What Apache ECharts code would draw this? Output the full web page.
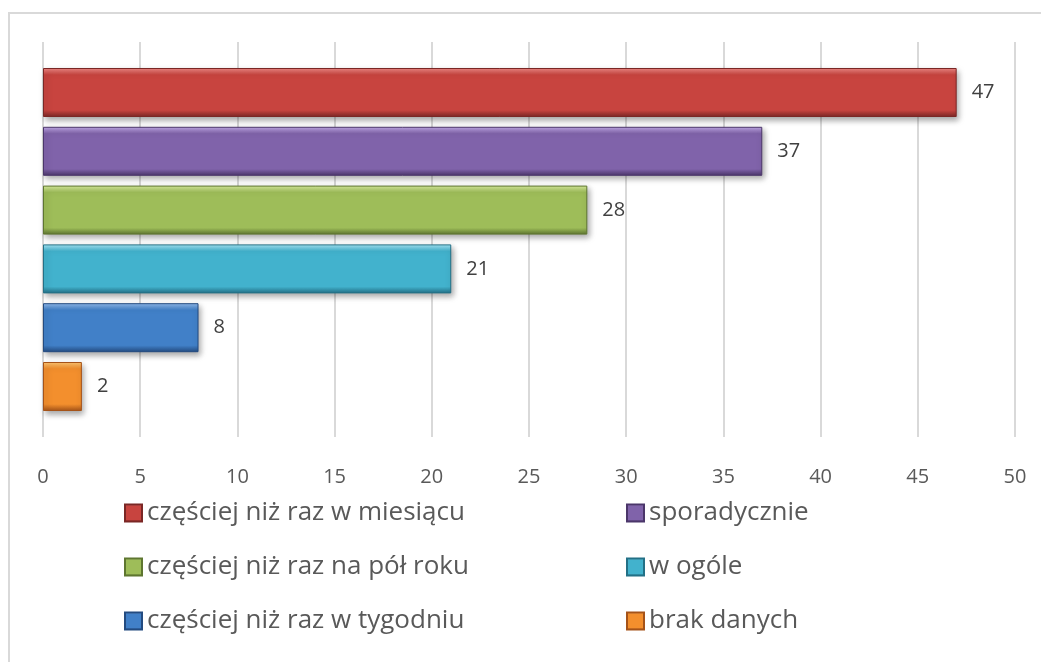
<!DOCTYPE html>
<html>
<head>
<meta charset="utf-8">
<script src="https://cdn.jsdelivr.net/npm/echarts@6/dist/echarts.min.js"></script>
<style>
  html, body { margin: 0; padding: 0; background: #fff; }
  #frame {
    position: absolute; left: 8px; top: 12px; width: 1100px; height: 700px;
    border-top: 2px solid #d9d9d9; border-left: 2px solid #d9d9d9;
  }
  #myChart { position: absolute; left: 0; top: 0; width: 1041px; height: 662px; }
</style>
</head>
<body>
<div id="frame"></div>
<div id="myChart"></div>
<script>
// dane
var seriesNames = [
  "częściej niż raz w miesiącu",
  "sporadycznie",
  "częściej niż raz na pół roku",
  "w ogóle",
  "częściej niż raz w tygodniu",
  "brak danych"
];
var values = [47, 37, 28, 21, 8, 2];
var xMin = 0, xMax = 50, xStep = 5;

// kolory: [jasny brzeg, środek, ciemny brzeg]
var palette = [
  ["#f08a87", "#c8443f", "#7a2725"],
  ["#c2aae8", "#8063aa", "#4b366a"],
  ["#daee9f", "#9ebd59", "#5e7630"],
  ["#a9e8f8", "#42b2cd", "#237086"],
  ["#93bcee", "#4180c8", "#234b80"],
  ["#ffc773", "#f38f2d", "#a55318"]
];

function bevel(c) {
  return {
    type: "linear", x: 0, y: 0, x2: 0, y2: 1,
    colorStops: [
      { offset: 0, color: c[0] },
      { offset: 0.14, color: c[1] },
      { offset: 0.86, color: c[1] },
      { offset: 1, color: c[2] }
    ]
  };
}

var mycharts = echarts.init(document.getElementById("myChart"));

var series = seriesNames.map(function (name, i) {
  return {
    name: name,
    type: "bar",
    barWidth: 49,
    barGap: "20%",
    data: [values[i]],
    itemStyle: {
      color: bevel(palette[i]),
      borderColor: palette[i][2],
      borderWidth: 1,
      shadowColor: "rgba(0,0,0,0.35)",
      shadowBlur: 6,
      shadowOffsetX: 2,
      shadowOffsetY: 3
    },
    label: {
      show: true,
      position: "right",
      distance: 15,
      color: "#404040",
      fontSize: 20,
      fontFamily: "Open Sans"
    }
  };
});

var legendText = { color: "#595959", fontSize: 26, fontFamily: "Open Sans" };

var option = {
  animation: false,
  grid: { left: 43, right: 26, top: 42, bottom: 225 },
  legend: [
    {
      orient: "vertical", left: 124, top: 500, itemGap: 28, padding: 0,
      itemWidth: 17, itemHeight: 17, icon: "rect",
      textStyle: legendText,
      data: [seriesNames[0], seriesNames[2], seriesNames[4]]
    },
    {
      orient: "vertical", left: 626, top: 500, itemGap: 28, padding: 0,
      itemWidth: 17, itemHeight: 17, icon: "rect",
      textStyle: legendText,
      data: [seriesNames[1], seriesNames[3], seriesNames[5]]
    }
  ],
  xAxis: {
    type: "value",
    min: xMin, max: xMax, interval: xStep,
    axisLine: { show: false },
    axisTick: { show: false },
    splitLine: { lineStyle: { color: "#d9d9d9", width: 2 } },
    axisLabel: { color: "#595959", fontSize: 20, fontFamily: "Open Sans", margin: 30 }
  },
  yAxis: {
    type: "category",
    inverse: true,
    data: [""],
    axisLine: { show: false },
    axisTick: { show: false },
    axisLabel: { show: false }
  },
  series: series
};
mycharts.setOption(option);
</script>
</body>
</html>
